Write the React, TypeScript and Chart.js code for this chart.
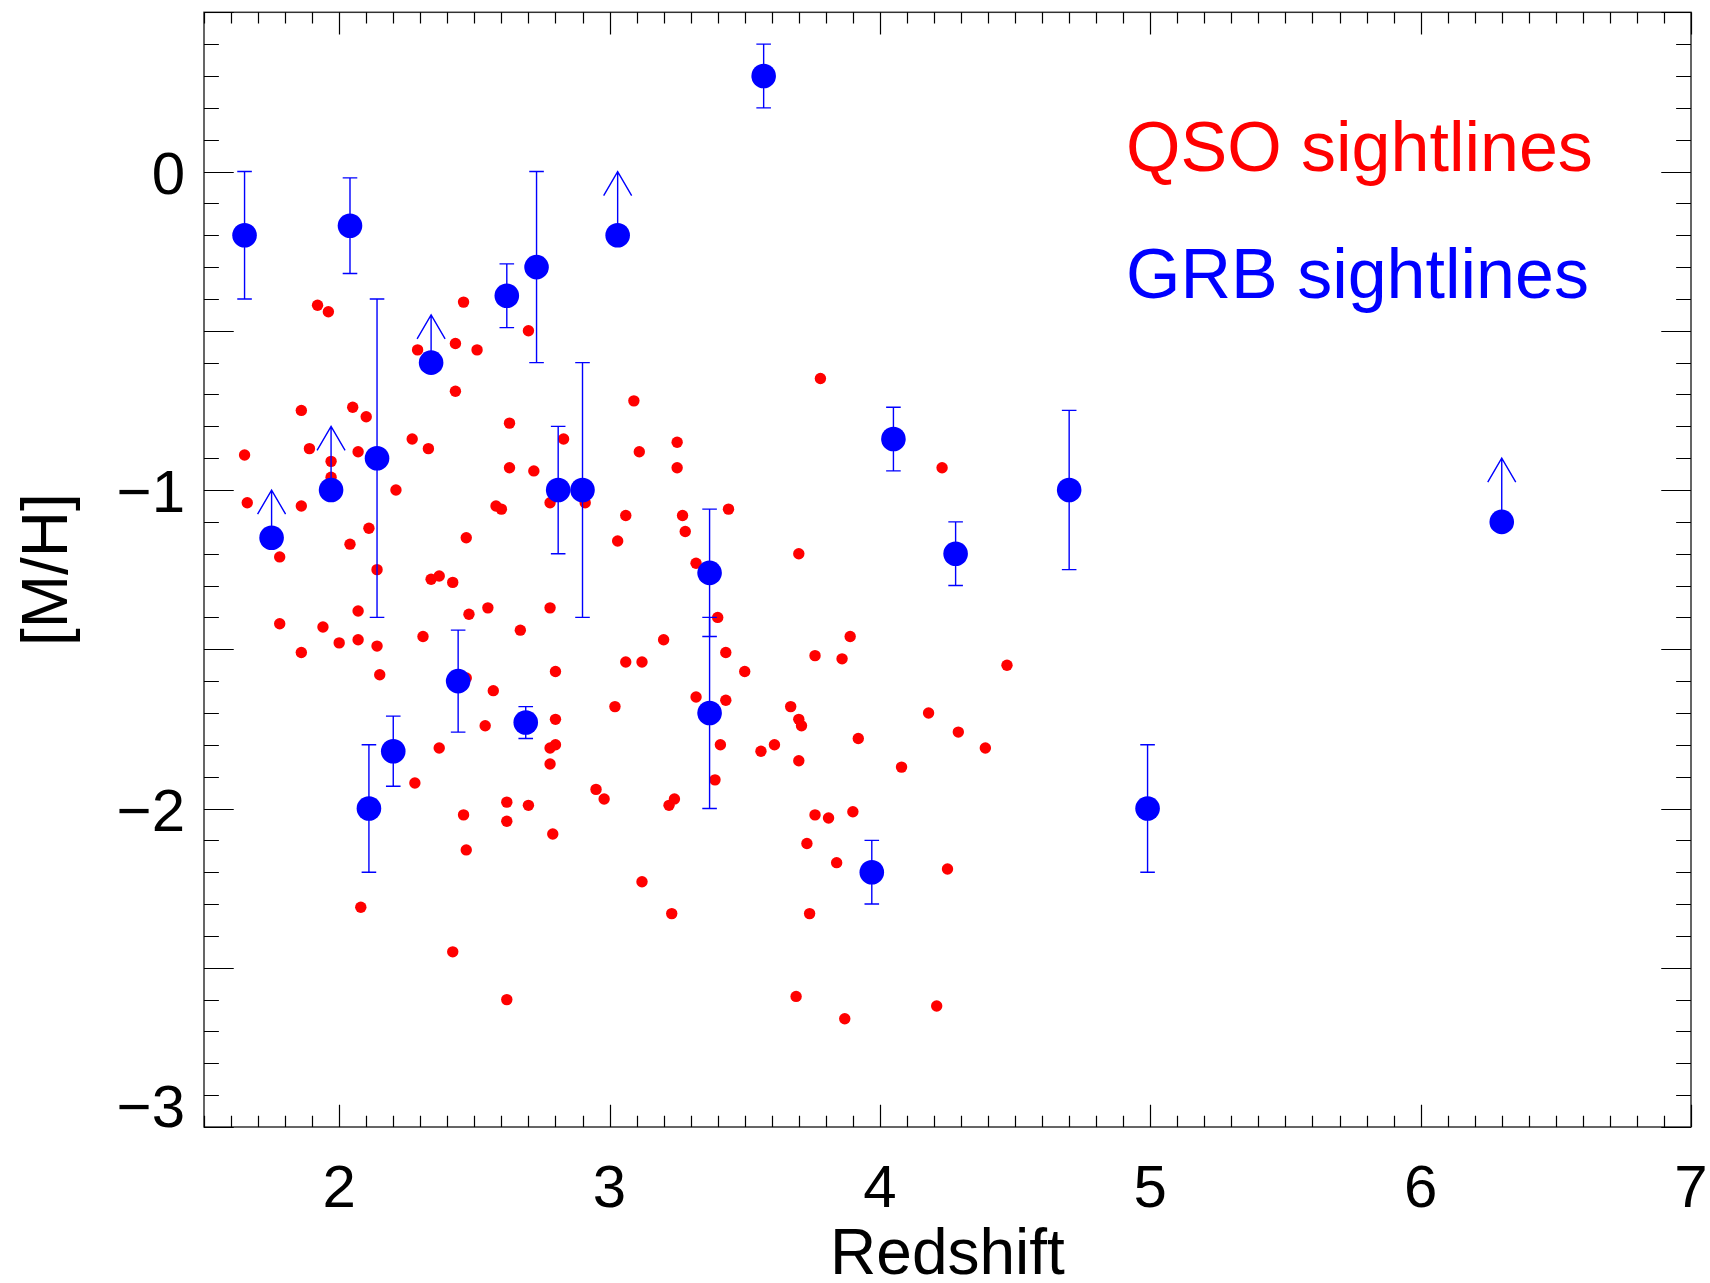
import React, { useEffect, useRef } from "react";
import { Chart, registerables } from "chart.js";

Chart.register(...registerables);

// QSO-DLA metallicities
const qsoRedshift = [
  1.92, 1.96, 2.46, 2.70, 2.29, 2.43, 2.51, 2.43, 3.09, 1.86,
  2.05, 2.10, 2.63, 2.83, 3.11, 1.65, 1.89, 2.07, 1.97, 2.27,
  2.33, 2.63, 2.72, 1.97, 2.21, 1.66, 1.86, 2.58, 2.60, 2.78,
  2.91, 3.06, 3.03, 2.11, 2.47, 2.04, 1.78, 2.14, 2.34, 2.37,
  2.42, 2.07, 2.55, 2.78, 2.48, 1.78, 1.94, 2.00, 2.07, 2.14,
  2.31, 2.67, 1.86,
  3.06, 3.12, 2.80, 2.15, 2.47, 2.57, 3.02, 2.54, 2.80, 2.80,
  2.78, 2.37, 2.78, 2.28, 2.95, 2.98, 2.62, 2.70, 2.46, 2.62,
  2.79, 2.47, 3.12, 2.08, 2.42, 2.62,
  3.78, 3.25, 3.25, 3.44, 3.27, 3.28, 3.70, 3.32, 4.23, 3.40,
  3.20, 3.43, 3.89, 3.76, 3.86,
  4.47, 3.50, 3.32, 3.43, 3.67, 3.70, 3.71, 3.92, 4.18, 4.29,
  4.39, 3.41, 3.61, 3.56, 3.70, 4.08, 3.39, 3.24, 3.22, 3.76,
  3.81, 3.90, 3.73, 3.84, 4.25, 3.23, 3.74, 3.69, 3.87, 4.21,
];
const qsoMetallicity = [
  -0.42, -0.44, -0.41, -0.50, -0.56, -0.54, -0.56, -0.69, -0.72, -0.75,
  -0.74, -0.77, -0.79, -0.84, -0.88, -0.89, -0.87, -0.88, -0.91, -0.84,
  -0.87, -0.93, -0.94, -0.96, -1.00, -1.04, -1.05, -1.05, -1.06, -1.04,
  -1.04, -1.08, -1.16, -1.12, -1.15, -1.17, -1.21, -1.25, -1.28, -1.27,
  -1.29, -1.38, -1.37, -1.37, -1.39, -1.42, -1.43, -1.48, -1.47, -1.49,
  -1.46, -1.44, -1.51,
  -1.54, -1.54, -1.57, -1.58, -1.59, -1.63, -1.68, -1.74, -1.72, -1.80,
  -1.81, -1.81, -1.86, -1.92, -1.94, -1.97, -1.98, -1.99, -2.02, -2.04,
  -2.08, -2.13, -2.23, -2.31, -2.45, -2.60,
  -0.65, -0.85, -0.93, -1.06, -1.08, -1.13, -1.20, -1.23, -0.93, -1.40,
  -1.47, -1.51, -1.46, -1.52, -1.53,
  -1.55, -1.57, -1.65, -1.66, -1.68, -1.72, -1.74, -1.78, -1.70, -1.76,
  -1.81, -1.80, -1.80, -1.82, -1.85, -1.87, -1.91, -1.97, -1.99, -2.02,
  -2.03, -2.01, -2.11, -2.17, -2.19, -2.33, -2.33, -2.59, -2.66, -2.62,
];

// GRB-DLA metallicities; lower limits carry an arrow tip instead of an error
const grbRedshift = [
  1.65, 1.75, 1.97, 2.04, 2.11, 2.14, 2.20, 2.34, 2.44, 2.62, 2.69, 2.73,
  2.81, 2.90, 3.03, 3.37, 3.37, 3.57, 3.97, 4.05, 4.28, 4.70, 4.99, 6.30,
];
const grbMetallicity = [
  -0.20, -1.15, -1.00, -0.17, -2.00, -0.90, -1.82, -0.60, -1.60, -0.39, -1.73, -0.30,
  -1.00, -1.00, -0.20, -1.26, -1.70, 0.30, -2.20, -0.84, -1.20, -1.00, -2.00, -1.10,
];
const grbError = [
  0.20, 0, 0, 0.15, 0.20, 0.50, 0.11, 0, 0.16, 0.10, 0.05, 0.30,
  0.20, 0.40, 0, 0.20, 0.30, 0.10, 0.10, 0.10, 0.10, 0.25, 0.20, 0,
];
const grbLimitTip: (number | null)[] = [
  null, -1.00, -0.80, null, null, null, null, -0.45, null, null, null, null,
  null, null, 0.00, null, null, null, null, null, null, null, null, -0.90,
];

const xTickValues = [2, 3, 4, 5, 6, 7];
const xTickLabels = ["2", "3", "4", "5", "6", "7"];
const yTickValues = [0, -1, -2, -3];
const yTickLabels = ["0", "\u22121", "\u22122", "\u22123"];

const xTitle = "Redshift";
const yTitle = "[M/H]";
const legendEntries = [
  { text: "QSO sightlines", color: "#ff0000" },
  { text: "GRB sightlines", color: "#0000ff" },
];

const FONT = '"Liberation Sans", Arial, Helvetica, sans-serif';

const axesPlugin = {
  id: "idlAxes",
  afterDatasetDraw(chart: any, args: any) {
    // error bars and limit arrows sit above the QSO points, below GRB points
    if (args.index !== 1) return;
    const ctx = chart.ctx;
    const xs = chart.scales.x;
    const ys = chart.scales.y;
    ctx.save();
    ctx.strokeStyle = "#0000ff";
    ctx.lineWidth = 1.4;
    for (let i = 0; i < grbRedshift.length; i++) {
      const px = xs.getPixelForValue(grbRedshift[i]);
      const py = ys.getPixelForValue(grbMetallicity[i]);
      const tip = grbLimitTip[i];
      ctx.beginPath();
      if (tip !== null) {
        const ty = ys.getPixelForValue(tip);
        ctx.moveTo(px, py);
        ctx.lineTo(px, ty);
        ctx.moveTo(px - 14, ty + 24);
        ctx.lineTo(px, ty);
        ctx.lineTo(px + 14, ty + 24);
      } else if (grbError[i] > 0) {
        const top = ys.getPixelForValue(grbMetallicity[i] + grbError[i]);
        const bot = ys.getPixelForValue(grbMetallicity[i] - grbError[i]);
        ctx.moveTo(px, top);
        ctx.lineTo(px, bot);
        ctx.moveTo(px - 7.3, top);
        ctx.lineTo(px + 7.3, top);
        ctx.moveTo(px - 7.3, bot);
        ctx.lineTo(px + 7.3, bot);
      }
      ctx.stroke();
    }
    ctx.restore();
  },
  afterDraw(chart: any) {
    const ctx = chart.ctx;
    const xs = chart.scales.x;
    const ys = chart.scales.y;
    const { left, right, top, bottom } = chart.chartArea;
    const w = right - left;
    const h = bottom - top;
    ctx.save();

    // frame
    ctx.strokeStyle = "#333333";
    ctx.lineWidth = 1.5;
    ctx.strokeRect(left, top, w, h);

    // tick marks, pointing inward on all four sides
    ctx.strokeStyle = "#000000";
    ctx.lineWidth = 1.2;
    ctx.beginPath();
    const xMajorLen = 0.02 * h;
    const yMajorLen = 0.02 * w;
    for (let k = Math.ceil(xs.min * 10); k <= Math.floor(xs.max * 10); k++) {
      const v = k / 10;
      const len = k % 10 === 0 ? xMajorLen : xMajorLen / 2;
      const px = Math.round(xs.getPixelForValue(v)) + 0.5;
      ctx.moveTo(px, bottom);
      ctx.lineTo(px, bottom - len);
      ctx.moveTo(px, top);
      ctx.lineTo(px, top + len);
    }
    for (let k = Math.ceil(ys.min * 10); k <= Math.floor(ys.max * 10); k++) {
      const v = k / 10;
      const len = k % 5 === 0 ? yMajorLen : yMajorLen / 2;
      const py = Math.round(ys.getPixelForValue(v)) + 0.5;
      ctx.moveTo(left, py);
      ctx.lineTo(left + len, py);
      ctx.moveTo(right, py);
      ctx.lineTo(right - len, py);
    }
    ctx.stroke();

    // tick labels
    ctx.fillStyle = "#000000";
    ctx.font = `60px ${FONT}`;
    ctx.textBaseline = "alphabetic";
    ctx.textAlign = "center";
    xTickValues.forEach((v, i) => {
      ctx.fillText(xTickLabels[i], xs.getPixelForValue(v), bottom + 80);
    });
    ctx.textAlign = "right";
    yTickValues.forEach((v, i) => {
      const py = ys.getPixelForValue(v);
      const base = Math.min(py + 22, bottom);
      ctx.fillText(yTickLabels[i], left - 19, base);
    });

    // axis titles
    ctx.font = `64px ${FONT}`;
    ctx.textAlign = "center";
    ctx.fillText(xTitle, (left + right) / 2, bottom + 147);
    ctx.save();
    ctx.translate(67, (top + bottom) / 2);
    ctx.rotate(-Math.PI / 2);
    ctx.fillText(yTitle, 0, 0);
    ctx.restore();

    // legend text
    ctx.font = `70px ${FONT}`;
    ctx.textAlign = "left";
    legendEntries.forEach((e, i) => {
      ctx.fillStyle = e.color;
      ctx.fillText(e.text, 1126, 171 + i * 127);
    });

    ctx.restore();
  },
};

export default function App() {
  const canvasRef = useRef<HTMLCanvasElement | null>(null);

  useEffect(() => {
    const canvas = canvasRef.current;
    if (!canvas) return;
    const chart = new Chart(canvas, {
      type: "scatter",
      data: {
        datasets: [
          {
            label: "GRB sightlines",
            data: grbRedshift.map((z, i) => ({ x: z, y: grbMetallicity[i] })),
            backgroundColor: "#0000ff",
            borderWidth: 0,
            pointRadius: 12.3,
            pointHoverRadius: 12.3,
            order: 0,
          },
          {
            label: "QSO sightlines",
            data: qsoRedshift.map((z, i) => ({ x: z, y: qsoMetallicity[i] })),
            backgroundColor: "#ff0000",
            borderWidth: 0,
            pointRadius: 5.7,
            pointHoverRadius: 5.7,
            order: 1,
          },
        ],
      },
      options: {
        responsive: false,
        animation: false,
        devicePixelRatio: 1,
        events: [],
        layout: { padding: { top: 11, right: 19, left: 0, bottom: 0 } },
        plugins: {
          legend: { display: false },
          tooltip: { enabled: false },
        },
        scales: {
          x: {
            type: "linear",
            min: 1.5,
            max: 7,
            grid: { display: false },
            border: { display: false },
            ticks: { display: false },
            afterFit: (s: any) => {
              s.height = 156;
            },
          },
          y: {
            type: "linear",
            min: -3,
            max: 0.5,
            grid: { display: false },
            border: { display: false },
            ticks: { display: false },
            afterFit: (s: any) => {
              s.width = 204;
            },
          },
        },
      },
      plugins: [axesPlugin],
    });
    return () => chart.destroy();
  }, []);

  return (
    <div style={{ position: "absolute", left: 0, top: 0, width: 1710, height: 1283, background: "#ffffff" }}>
      <canvas ref={canvasRef} width={1710} height={1283} style={{ display: "block" }} />
    </div>
  );
}
